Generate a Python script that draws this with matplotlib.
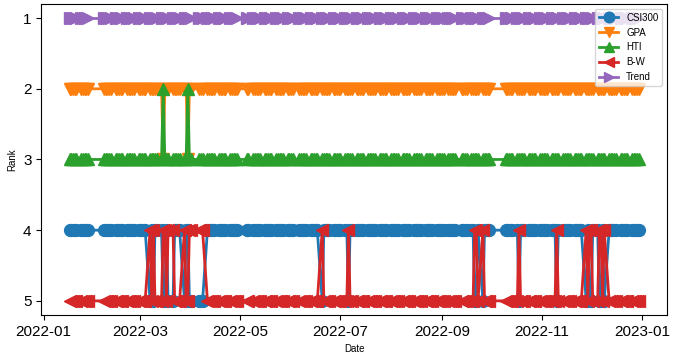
import pandas as pd
import matplotlib.pyplot as plt

plt.rcParams['font.family'] = ['Liberation Sans', 'DejaVu Sans']

# trading days (China A-share calendar, 2022)
start = '2022-01-17'
end = '2022-12-30'
holidays = ['2022-01-31', '2022-02-01', '2022-02-02', '2022-02-03', '2022-02-04',
            '2022-04-04', '2022-04-05', '2022-05-02', '2022-05-03', '2022-05-04',
            '2022-06-03', '2022-09-12', '2022-10-03', '2022-10-04', '2022-10-05',
            '2022-10-06', '2022-10-07']

names = ['CSI300', 'GPA', 'HTI', 'B-W', 'Trend']
markers = ['o', 'v', '^', '<', '>']
base_rank = {'CSI300': 4, 'GPA': 2, 'HTI': 3, 'B-W': 5, 'Trend': 1}

# days where B-W beat CSI300 (B-W rank 4, CSI300 rank 5)
bw_up_days = ['2022-03-07', '2022-03-09', '2022-03-15', '2022-03-16', '2022-03-18',
              '2022-03-21', '2022-03-28', '2022-03-31', '2022-04-01', '2022-04-06',
              '2022-04-07', '2022-04-08', '2022-06-20', '2022-07-06', '2022-09-21',
              '2022-09-22', '2022-09-26', '2022-10-18', '2022-11-10', '2022-11-28',
              '2022-11-30', '2022-12-01', '2022-12-06', '2022-12-07', '2022-12-09']
# days where HTI beat GPA (HTI rank 2, GPA rank 3)
hti_up_days = ['2022-03-15', '2022-03-30']

dates = pd.bdate_range(start, end)
dates = dates[~dates.isin(pd.to_datetime(holidays))]

ranks = pd.DataFrame({n: base_rank[n] for n in names}, index=dates)
bw = ranks.index.isin(pd.to_datetime(bw_up_days))
ranks.loc[bw, 'B-W'] = 4
ranks.loc[bw, 'CSI300'] = 5
ht = ranks.index.isin(pd.to_datetime(hti_up_days))
ranks.loc[ht, 'HTI'] = 2
ranks.loc[ht, 'GPA'] = 3

fig, ax = plt.subplots(figsize=(7, 3.6), dpi=100)
fig.subplots_adjust(left=0.059, right=0.953, top=0.989, bottom=0.125)

for name, m in zip(names, markers):
    ax.plot(ranks.index, ranks[name], marker=m, markersize=8.5, linewidth=2, label=name)

ax.invert_yaxis()
ax.set_yticks([1, 2, 3, 4, 5])
ax.tick_params(labelsize=11)
ax.set_xlabel('Date', fontsize=7)
ax.set_ylabel('Rank', fontsize=7)
ax.legend(loc='upper right', fontsize=7, markerscale=0.9)

plt.savefig('out.png')
plt.close(fig)
